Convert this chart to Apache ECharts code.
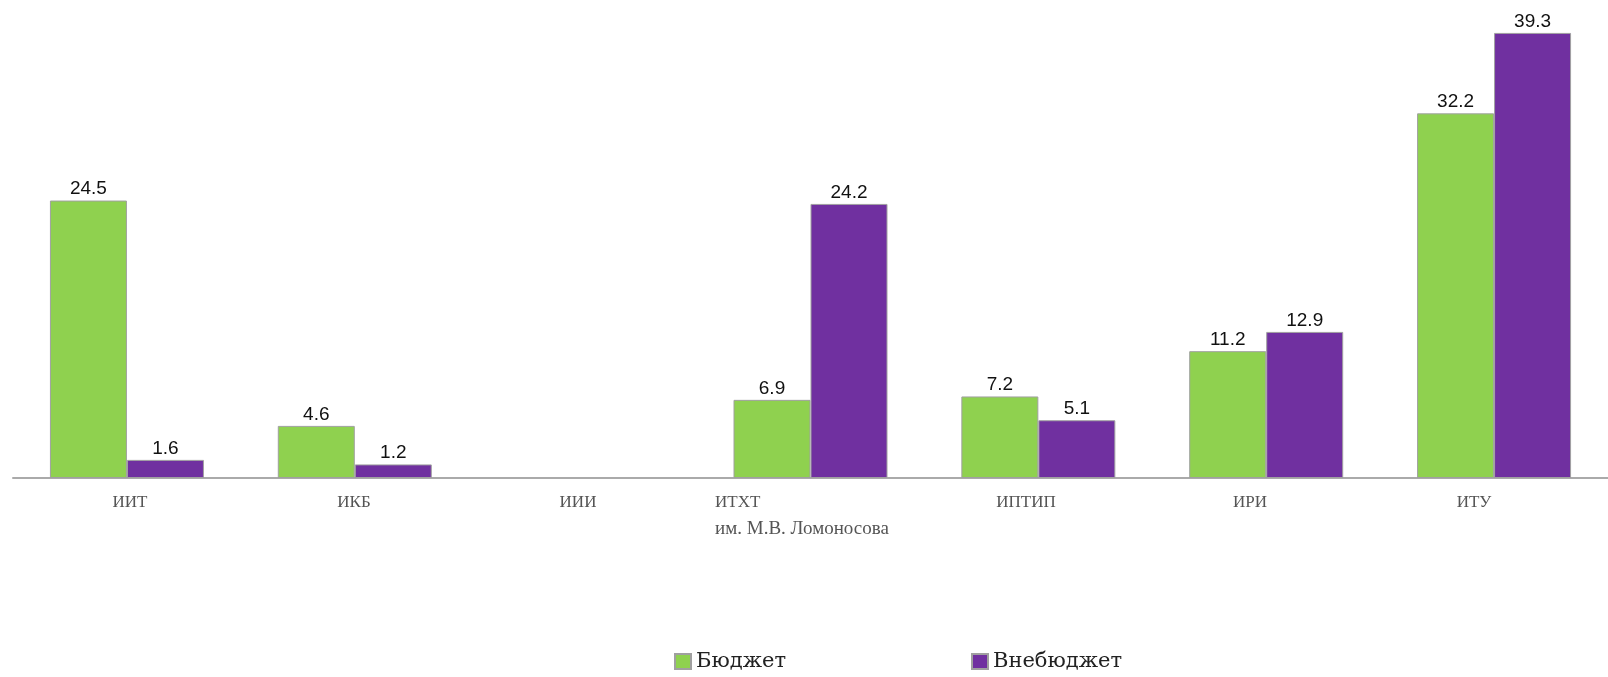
<!doctype html>
<html>
	<head>
		<meta charset="UTF-8">
		<title></title>
		<style type="text/css">
			html, body { margin: 0; padding: 0; background: #fff; }
			#main { width: 1608px; height: 677px; }
		</style>
	</head>
	<body>
		<div id="main"></div>
		<script src="https://cdn.jsdelivr.net/npm/echarts@6/dist/echarts.min.js"></script>
		<script type="text/javascript">
			// институты
			var categories = ['ИИТ', 'ИКБ', 'ИИИ', 'ИТХТ\nим. М.В. Ломоносова', 'ИПТИП', 'ИРИ', 'ИТУ'];
			// бюджет / внебюджет
			var budget = [24.5, 4.6, null, 6.9, 7.2, 11.2, 32.2];
			var offBudget = [1.6, 1.2, null, 24.2, 5.1, 12.9, 39.3];
			var seriesNames = ['Бюджет', 'Внебюджет'];

			var myChart = echarts.init(document.getElementById('main'));

			var barLabel = {
				show: true,
				position: 'top',
				distance: 2,
				color: '#111',
				fontFamily: 'Liberation Sans',
				fontSize: 19
			};

			var option = {
				animation: false,
				backgroundColor: '#fff',
				grid: [
					{left: 13, width: 1607, top: 25, height: 453},
					// отдельная сетка только для подписей категорий
					{left: 18, width: 1568, top: 25, height: 453}
				],
				legend: {
					left: 669,
					top: 646,
					itemWidth: 16,
					itemHeight: 15,
					itemGap: 185,
					icon: 'rect',
					textStyle: {
						fontFamily: 'DejaVu Serif',
						fontSize: 21,
						color: '#222'
					},
					data: seriesNames
				},
				xAxis: [
					{
						type: 'category',
						gridIndex: 0,
						data: categories,
						axisLine: {lineStyle: {color: '#aaaaaa', width: 2}},
						axisTick: {show: false},
						axisLabel: {show: false}
					},
					{
						type: 'category',
						gridIndex: 1,
						data: categories,
						axisLine: {show: false},
						axisTick: {show: false},
						axisLabel: {
							interval: 0,
							margin: 13,
							fontFamily: 'Liberation Serif',
							fontSize: 17,
							color: '#555',
							lineHeight: 24,
							formatter: function (v) {
								var p = v.split('\n');
								if (p.length > 1) {
									return '{l|' + p[0] + '}\n{c|' + p[1] + '}';
								}
								return v;
							},
							rich: {
								l: {align: 'left', fontFamily: 'Liberation Serif', fontSize: 17, color: '#555', lineHeight: 24},
								c: {align: 'center', fontFamily: 'Liberation Serif', fontSize: 19, color: '#555', lineHeight: 28}
							}
						}
					}
				],
				yAxis: [
					{type: 'value', gridIndex: 0, min: 0, max: 40, show: false},
					{type: 'value', gridIndex: 1, min: 0, max: 40, show: false}
				],
				series: [
					{
						name: seriesNames[0],
						type: 'bar',
						xAxisIndex: 0,
						yAxisIndex: 0,
						barWidth: 77,
						barGap: '0%',
						itemStyle: {color: '#8fd14f', borderColor: '#a0a0a0', borderWidth: 1},
						label: barLabel,
						data: budget
					},
					{
						name: seriesNames[1],
						type: 'bar',
						xAxisIndex: 0,
						yAxisIndex: 0,
						barWidth: 77,
						barGap: '0%',
						itemStyle: {color: '#7030a0', borderColor: '#a0a0a0', borderWidth: 1},
						label: barLabel,
						data: offBudget
					}
				]
			};

			myChart.setOption(option);
		</script>
	</body>
</html>
